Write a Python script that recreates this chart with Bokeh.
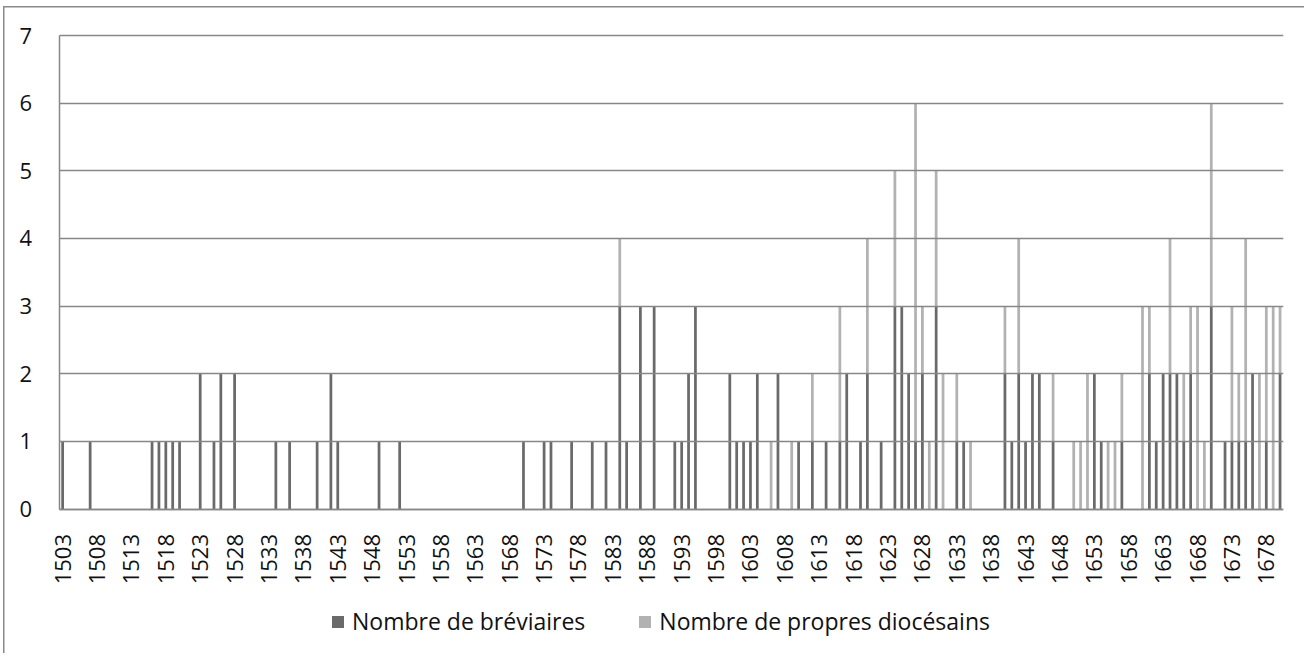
import math
from bokeh.plotting import figure
from bokeh.models import Range1d, FixedTicker, BasicTickFormatter, Legend, LegendItem, ColumnDataSource
from bokeh.embed import file_html
from bokeh.resources import INLINE

# ---- data ----
first_year = 1503
last_year = 1680
tick_step = 5
y_max = 7

brev_years = [1503, 1507, 1516, 1517, 1518, 1519, 1520, 1523, 1525, 1526, 1528, 1534, 1536,
              1540, 1542, 1543, 1549, 1552, 1570, 1573, 1574, 1577, 1580, 1582, 1584, 1585,
              1587, 1589, 1592, 1593, 1594, 1595, 1600, 1601, 1602, 1603, 1604, 1607, 1610,
              1612, 1614, 1616, 1617, 1619, 1620, 1622, 1624, 1625, 1626, 1627, 1628, 1630,
              1633, 1634, 1640, 1641, 1642, 1643, 1644, 1645, 1647, 1653, 1654, 1657, 1661,
              1662, 1663, 1664, 1665, 1666, 1667, 1670, 1672, 1673, 1674, 1675, 1676, 1678,
              1680]
brev_counts = [1, 1, 1, 1, 1, 1, 1, 2, 1, 2, 2, 1, 1,
               1, 2, 1, 1, 1, 1, 1, 1, 1, 1, 1, 3, 1,
               3, 3, 1, 1, 2, 3, 2, 1, 1, 1, 2, 2, 1,
               1, 1, 1, 2, 1, 2, 1, 3, 3, 2, 1, 2, 3,
               1, 1, 2, 1, 2, 1, 2, 2, 1, 2, 1, 1, 2,
               1, 2, 2, 2, 1, 2, 3, 1, 1, 1, 1, 2, 1,
               2]

prop_years = [1584, 1606, 1609, 1612, 1616, 1620, 1624, 1627, 1628, 1629, 1630, 1631, 1633,
              1635, 1640, 1642, 1647, 1650, 1651, 1652, 1655, 1656, 1657, 1660, 1661, 1664,
              1666, 1667, 1668, 1669, 1670, 1673, 1674, 1675, 1677, 1678, 1679, 1680]
prop_counts = [1, 1, 1, 1, 2, 2, 2, 5, 1, 1, 2, 2, 1,
               1, 1, 2, 1, 1, 1, 2, 1, 1, 1, 3, 1, 2,
               1, 1, 3, 1, 3, 2, 1, 3, 2, 2, 3, 1]

series_names = ["Nombre de bréviaires", "Nombre de propres diocésains"]
series_colors = ["#6a6a6a", "#b2b2b2"]

# ---- build table ----
years = list(range(first_year, last_year + 1))
brev = [0] * len(years)
prop = [0] * len(years)
for y, c in zip(brev_years, brev_counts):
    brev[y - first_year] = c
for y, c in zip(prop_years, prop_counts):
    prop[y - first_year] = c
source = ColumnDataSource(dict(year=years, brev=brev, prop=prop))

FONT = "Open Sans"
GRID = "#878787"
BORDER = "#8a8a8a"

# ---- layout (page pixels) ----
W, H = 1304, 653                     # figure placed at (8, 8)
TOP, BOTTOM, LEFT, RIGHT = 10, 8, 8, 21
page_x0, page_y0 = 8, 8
plot_left, plot_right = 66.7, 1291.0  # value-area edges on the page
plot_top, plot_zero = 43.0, 516.5
frame_left = page_x0 + LEFT
frame_right = page_x0 + W - RIGHT
frame_top = page_y0 + TOP
frame_bottom = page_y0 + H - BOTTOM
x_lo, x_hi = first_year - 0.5, last_year + 0.5
ppx = (plot_right - plot_left) / (x_hi - x_lo)
ppy = (plot_zero - plot_top) / y_max
x_start = x_lo - (plot_left - frame_left) / ppx
x_end = x_hi + (frame_right - plot_right) / ppx
y_end = y_max + (plot_top - frame_top) / ppy
y_start = -(frame_bottom - plot_zero) / ppy

p = figure(width=W, height=H, output_backend="svg", toolbar_location=None,
           x_range=Range1d(x_start, x_end), y_range=Range1d(y_start, y_end),
           min_border_left=LEFT, min_border_top=TOP, min_border_right=RIGHT, min_border_bottom=BOTTOM)
p.styles = {
    "background-image": f"linear-gradient({BORDER},{BORDER}), linear-gradient({BORDER},{BORDER})",
    "background-position": "3px 6px, 3px 6px",
    "background-size": "100% 1.5px, 1.5px 100%",
    "background-repeat": "no-repeat",
    "background-color": "white",
}
p.outline_line_color = None
p.background_fill_color = None
p.border_fill_color = None
p.xgrid.visible = False
p.ygrid.visible = False

# axes (placed inside the frame at the value area's edges)
p.xaxis.fixed_location = 0
p.xaxis.bounds = (x_lo, x_hi)
p.xaxis.ticker = FixedTicker(ticks=years[::tick_step])
p.xaxis.formatter = BasicTickFormatter(use_scientific=False)
p.xaxis.major_label_orientation = math.pi / 2
p.xaxis.major_tick_line_color = None
p.xaxis.minor_tick_line_color = None
p.xaxis.major_label_standoff = 19
p.xaxis.axis_line_color = GRID
p.xaxis.axis_line_width = 1.5

# value axis: its inward ticks, as long as the plot is wide, are the horizontal grid lines
p.yaxis.fixed_location = x_lo
p.yaxis.bounds = (0, y_max)
p.yaxis.ticker = FixedTicker(ticks=list(range(0, y_max + 1)))
p.yaxis.major_tick_in = round(plot_right - plot_left)
p.yaxis.major_tick_out = 0
p.yaxis.major_tick_line_color = GRID
p.yaxis.major_tick_line_width = 1.5
p.yaxis.minor_tick_line_color = None
p.yaxis.major_label_standoff = 27
p.yaxis.axis_line_color = GRID
p.yaxis.axis_line_width = 1.5

for ax in (p.xaxis[0], p.yaxis[0]):
    ax.major_label_text_font = FONT
    ax.major_label_text_font_size = "22px"
    ax.major_label_text_color = "#111111"

renderers = p.vbar_stack(["brev", "prop"], x="year", width=0.4, source=source,
                         color=series_colors, line_color=None)

legend = Legend(items=[LegendItem(label=series_names[i], renderers=[renderers[i]]) for i in range(2)],
                orientation="horizontal", location=(round(338 - frame_left), 8),
                label_text_font=FONT, label_text_font_size="23px", label_text_color="#111111",
                glyph_width=15, glyph_height=15, label_standoff=7, spacing=52,
                padding=0, margin=0, border_line_color=None, background_fill_alpha=0)
p.add_layout(legend, "center")

open("out.html", "w").write(file_html(p, INLINE))
